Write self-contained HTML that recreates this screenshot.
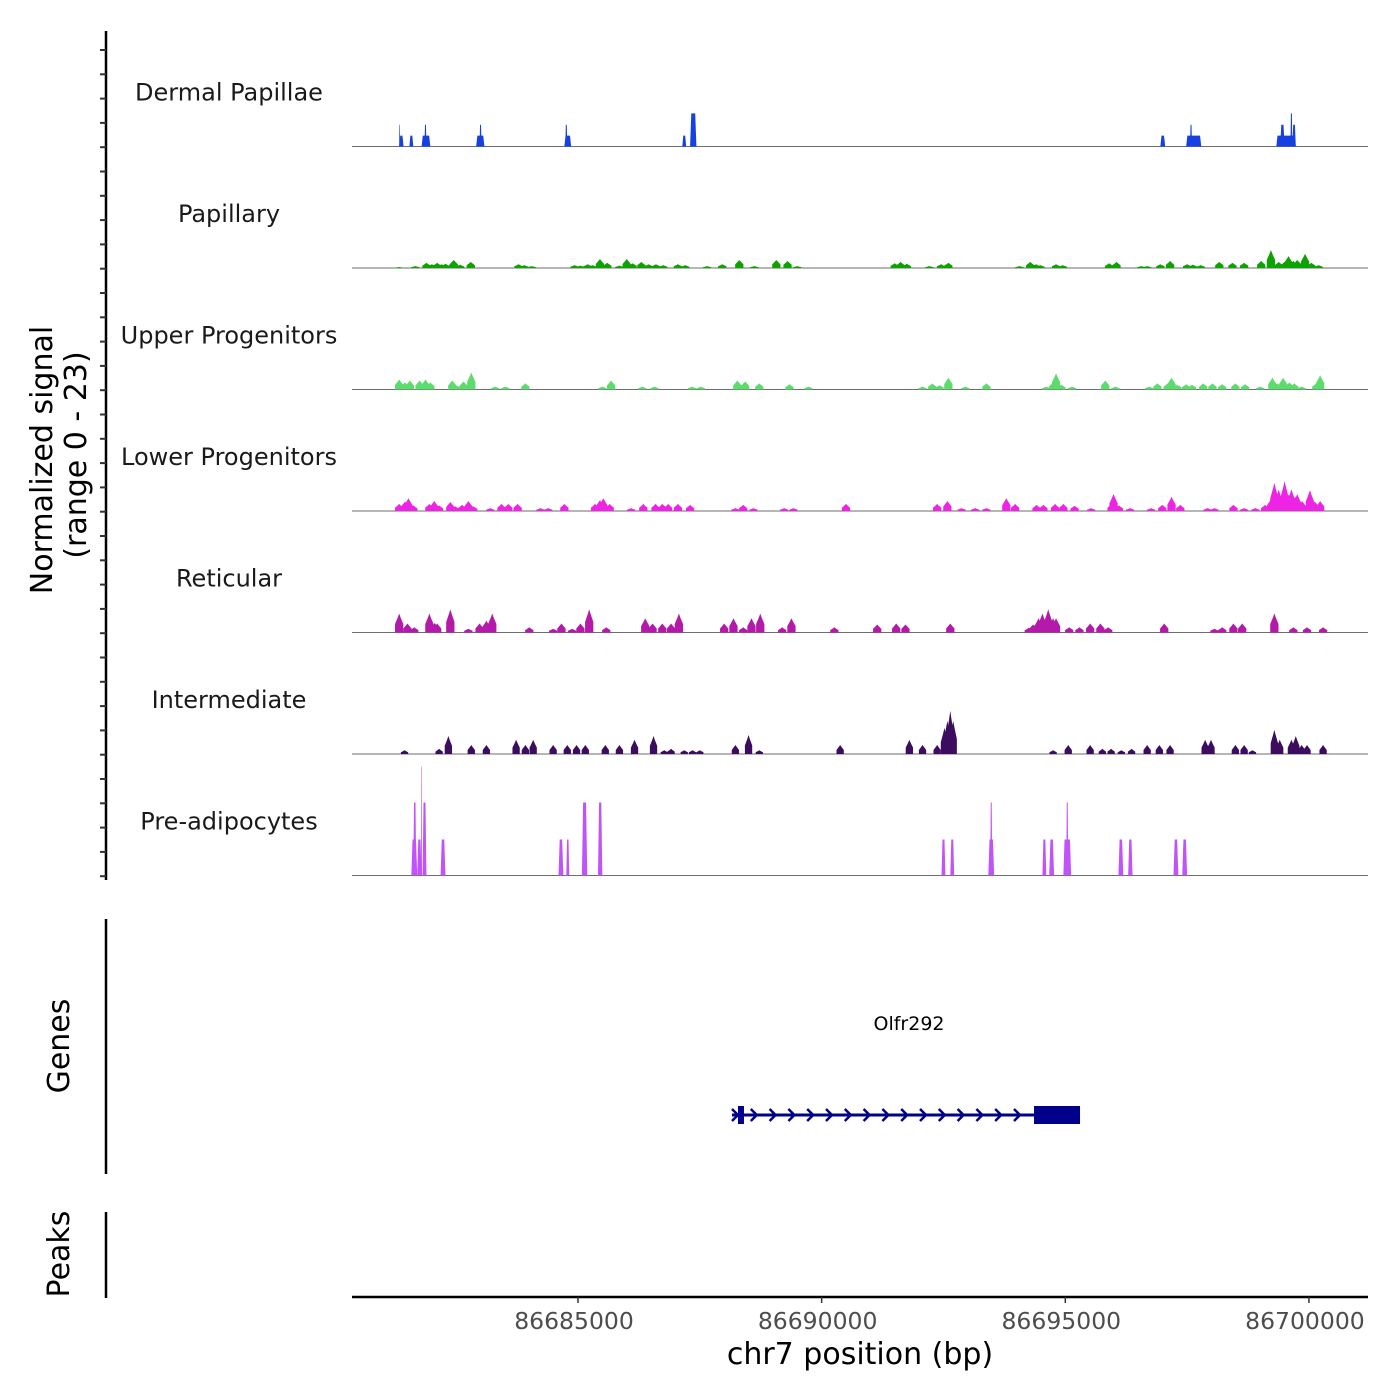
<!DOCTYPE html>
<html><head><meta charset="utf-8"><style>
html,body{margin:0;padding:0;background:#fff}
svg{display:block;font-family:"DejaVu Sans","Liberation Sans",sans-serif}
</style></head><body>
<svg id="chart" width="1400" height="1400" viewBox="0 0 1400 1400">
<g id="tracks"></g>
<g id="axes"></g>
<g id="genes"></g>
</svg>
<script>
// ---- data (positions in kb offset from REGION_OFFSET) ----
const REGION_OFFSET = 86680000;
const xTickValues = [86685000, 86690000, 86695000, 86700000];
const xTickLabels = ["86685000", "86690000", "86695000", "86700000"];
const trackNames = ["Dermal Papillae","Papillary","Upper Progenitors","Lower Progenitors","Reticular","Intermediate","Pre-adipocytes"];
const signalMax = 23;

const dermalStart = [1.33,1.33,1.54,1.79,1.85,2.91,2.98,4.72,4.74,7.14,7.30,16.95,17.48,17.56,19.33,19.41,19.62,19.66];
const dermalEnd   = [1.42,1.35,1.62,1.97,1.89,3.08,3.02,4.86,4.78,7.22,7.43,17.05,17.79,17.60,19.73,19.50,19.66,19.73];
const dermalVal   = [2.3,4.6,2.3,2.3,4.6,2.3,4.6,2.3,4.6,2.3,7.0,2.3,2.3,4.6,2.3,4.6,7.0,4.6];

const preadipoStart = [1.58,1.62,1.70,1.78,1.81,2.18,4.60,4.76,5.08,5.41,12.46,12.64,13.42,13.46,14.53,14.67,14.96,15.02,16.09,16.29,17.22,17.40];
const preadipoEnd   = [1.70,1.68,1.79,1.80,1.89,2.28,4.70,4.82,5.19,5.50,12.54,12.72,13.54,13.50,14.61,14.77,15.12,15.06,16.19,16.38,17.32,17.50];
const preadipoVal   = [7.6,15.4,7.6,23,15.4,7.6,7.6,7.6,15.4,15.4,7.6,7.6,7.6,15.4,7.6,7.6,7.6,15.4,7.6,7.6,7.6,7.6];

const papillaryPos = [1.33,1.66,1.89,2.0,2.11,2.2,2.28,2.38,2.45,2.58,2.8,3.78,3.9,4.05,4.93,5.05,5.2,5.3,5.45,5.6,5.85,6.0,6.12,6.3,6.45,6.6,6.75,7.05,7.2,7.65,7.96,8.31,8.62,9.07,9.3,9.5,11.5,11.62,11.75,12.21,12.45,12.6,14.06,14.28,14.4,14.49,14.81,14.95,15.9,16.05,16.56,16.68,16.95,17.15,17.5,17.62,17.78,18.16,18.43,18.67,19.02,19.22,19.38,19.5,19.58,19.68,19.76,19.92,20.05,20.2];
const papillaryVal = [.2,.4,1.1,.8,1.1,.8,.9,.7,1.7,.7,1.3,.8,.6,.4,.6,.5,.8,.6,1.9,1.1,.5,1.9,1.0,1.3,.8,.8,.6,.8,.6,.4,.8,1.7,.4,1.7,1.5,.4,1.0,1.3,.9,.4,.8,1.1,.4,1.3,.8,.6,.8,.6,1.0,1.3,.4,.4,.8,1.5,.8,.7,.6,1.3,1.1,1.1,1.5,3.8,1.3,1.3,2.5,1.5,1.7,3.0,1.1,.6];

const upperPos = [1.33,1.45,1.55,1.75,1.87,1.97,2.42,2.52,2.65,2.75,2.81,3.30,3.51,3.92,5.50,5.68,6.32,6.57,7.34,7.52,8.27,8.43,8.72,9.34,9.73,12.07,12.27,12.42,12.6,12.95,13.38,14.61,14.75,14.81,14.92,15.14,15.82,16.03,16.72,16.89,17.1,17.18,17.3,17.48,17.6,17.83,18.02,18.22,18.49,18.69,19.0,19.25,19.35,19.47,19.6,19.7,19.85,20.15,20.23];
const upperVal = [2.1,1.5,1.9,1.9,2.1,1.5,1.9,.8,1.7,1.2,3.6,.6,.6,1.3,.6,1.9,.6,.6,.6,.6,1.9,1.7,1.3,1.1,.6,.6,1.3,.9,2.5,.6,1.3,.6,1.5,3.4,1.0,.6,1.9,.6,.6,1.3,1.3,2.5,1.0,1.1,1.0,1.3,1.3,1.1,1.3,1.1,.6,2.5,1.3,2.5,1.5,1.3,.6,1.3,3.0];

const lowerPos = [1.33,1.45,1.52,1.62,1.95,2.05,2.15,2.38,2.48,2.62,2.75,2.85,3.20,3.43,3.57,3.76,4.23,4.39,4.72,5.35,5.45,5.52,5.65,6.09,6.34,6.59,6.73,6.85,7.05,7.30,8.23,8.39,8.60,9.23,9.42,10.50,12.37,12.58,12.87,13.15,13.38,13.79,13.97,14.41,14.55,14.79,14.96,15.19,15.53,15.95,15.99,16.1,16.33,16.76,16.99,17.18,17.36,17.92,18.06,18.45,18.67,18.90,19.10,19.22,19.29,19.38,19.50,19.58,19.64,19.72,19.76,19.86,20.02,20.12,20.23];
const lowerVal = [1.5,2.0,2.7,1.2,1.5,2.1,1.2,1.9,1.0,1.3,2.1,1.0,.6,1.5,1.5,1.5,.6,.6,1.5,1.5,2.3,2.7,1.5,.6,1.5,1.5,1.5,1.5,1.5,1.3,.6,1.3,.6,.6,.6,1.5,1.5,2.1,.6,.6,.6,2.7,1.5,1.3,1.3,1.5,1.5,1.1,.6,1.5,3.6,1.2,.6,.6,1.3,3.0,1.3,.6,.6,1.3,.6,.6,1.3,2.5,5.9,4.5,6.3,3.5,4.6,3.0,3.6,2.1,4.4,2.0,2.1];

const reticularPos = [1.33,1.50,1.64,1.95,2.06,2.11,2.38,2.75,2.98,3.12,3.20,3.24,4.00,4.49,4.66,4.88,5.05,5.23,5.58,6.38,6.53,6.73,6.91,7.07,8.00,8.19,8.39,8.56,8.74,9.19,9.38,10.26,11.14,11.53,11.72,12.64,14.25,14.34,14.45,14.53,14.65,14.75,14.81,15.08,15.29,15.51,15.72,15.88,17.03,18.06,18.22,18.45,18.63,19.29,19.68,19.96,20.29];
const reticularVal = [4.0,1.9,1.1,4.0,2.0,1.9,4.9,.8,1.9,2.5,2.0,4.0,1.1,.8,1.9,.8,1.9,4.9,1.1,3.0,1.9,1.9,1.9,4.0,1.9,3.0,1.1,3.0,4.0,1.1,3.0,1.1,1.7,1.9,1.7,1.9,1.0,1.7,3.0,4.0,4.9,3.0,3.0,1.1,1.1,1.9,1.9,1.1,1.9,.8,1.1,1.9,1.9,4.0,1.1,1.1,1.1];

const intermediatePos = [1.44,2.15,2.34,2.81,3.12,3.73,3.92,4.08,4.49,4.78,4.97,5.15,5.56,5.85,6.16,6.55,6.77,6.91,7.18,7.35,7.50,8.23,8.50,8.72,10.38,11.80,12.07,12.37,12.52,12.58,12.64,12.70,14.75,15.06,15.51,15.76,15.94,16.15,16.36,16.68,16.93,17.15,17.87,17.99,18.49,18.67,18.84,19.29,19.40,19.64,19.73,19.85,19.96,20.29];
const intermediateVal = [.8,1.1,3.8,1.9,1.9,3.0,1.9,3.0,1.9,1.9,1.9,1.9,1.9,1.9,3.0,3.8,.8,1.1,.8,.8,.8,1.9,4.0,.8,1.9,3.0,1.9,1.9,5.5,7.0,9.1,7.0,.8,1.9,1.9,1.1,1.1,.8,1.1,1.9,1.9,1.9,3.0,3.0,1.9,1.9,.8,5.1,3.0,3.0,3.8,1.9,1.9,1.9];

const geneName = "Olfr292";
const geneStart = 86688160, geneEnd = 86695302;
const exonStarts = [86688283, 86694358];
const exonEnds   = [86688406, 86695302];

// ---- scales ----
const PLOT_L = 352, PLOT_R = 1368;
const TICK0_X = 578, PX_PER_BP = 0.04873;
function xScale(bp){ return TICK0_X + (bp - 86685000) * PX_PER_BP; }
function xKb(kb){ return xScale(REGION_OFFSET + kb*1000); }
const TRACK_TOP = 25, TRACK_H = 121.5, PX_PER_UNIT = 109/signalMax;
function baseY(i){ return TRACK_TOP + TRACK_H*(i+1); }
function yScale(i, v){ return baseY(i) - v*PX_PER_UNIT; }

const NS = "http://www.w3.org/2000/svg";
function mk(tag, attrs, parent){ const e=document.createElementNS(NS,tag); for(const k in attrs) e.setAttribute(k, attrs[k]); parent.appendChild(e); return e; }

const colors = ["#1740e0","#0ca300","#5cdc6c","#ee24e4","#b31aa9","#3c0c5e","#c054f8"];
const tracks = document.getElementById('tracks');
const axes = document.getElementById('axes');
const genes = document.getElementById('genes');

trackNames.forEach((nm,i)=>{
  const t = mk('text',{x:229,y:baseY(i)-46,'text-anchor':'middle','font-size':24,fill:'#1a1a1a'},tracks);
  t.textContent = nm;
  
  
  const l = mk('line',{x1:PLOT_L,x2:PLOT_R,y1:baseY(i),y2:baseY(i),stroke:'#6e6e6e','stroke-width':1},tracks);
  
  
});

function drawSegments(i, starts, ends, vals){
  const g = mk('g',{fill:colors[i]},tracks);
  
  
  for(let k=0;k<starts.length;k++){
    const x0=xKb(starts[k]), x1=xKb(ends[k]), y=yScale(i,vals[k]), b=baseY(i);
    const s = Math.min(1.2,(x1-x0)/4);
    const p = mk('polygon',{points:`${x0},${b} ${x0+s},${y} ${x1-s},${y} ${x1},${b}`},g);
    
    
  }
}
function drawPeaks(i, pos, vals, wkb){
  const g = mk('g',{fill:colors[i]},tracks);
  
  
  for(let k=0;k<pos.length;k++){
    const c=xKb(pos[k]), hw=wkb*48.73/2, b=baseY(i), v=vals[k]*PX_PER_UNIT;
    const pts=[[c-hw,b],[c-hw,b-0.45*v],[c-hw/3,b-0.8*v],[c,b-v],[c+hw/3,b-0.8*v],[c+hw,b-0.45*v],[c+hw,b]];
    const p = mk('polygon',{points:pts.map(q=>q.join(',')).join(' ')},g);
    
    
  }
}
drawSegments(0, dermalStart, dermalEnd, dermalVal);
drawPeaks(1, papillaryPos, papillaryVal, 0.17);
drawPeaks(2, upperPos, upperVal, 0.17);
drawPeaks(3, lowerPos, lowerVal, 0.17);
drawPeaks(4, reticularPos, reticularVal, 0.17);
drawPeaks(5, intermediatePos, intermediateVal, 0.15);
drawSegments(6, preadipoStart, preadipoEnd, preadipoVal);

mk('line',{x1:106,x2:106,y1:31,y2:880,stroke:'#000','stroke-width':2.5},axes);
for(let y=50;y<=880;y+=24.3){ mk('line',{x1:100,x2:106,y1:y,y2:y,stroke:'#333','stroke-width':2},axes); }
mk('line',{x1:106,x2:106,y1:919,y2:1174,stroke:'#000','stroke-width':2.5},axes);
mk('line',{x1:106,x2:106,y1:1212,y2:1298,stroke:'#000','stroke-width':2.5},axes);
let t;
t=mk('text',{x:0,y:0,'text-anchor':'middle','font-size':30,fill:'#000',transform:'translate(52,460) rotate(-90)'},axes); t.textContent='Normalized signal';
 
t=mk('text',{x:0,y:0,'text-anchor':'middle','font-size':30,fill:'#000',transform:'translate(86,455) rotate(-90)'},axes); t.textContent='(range 0 - 23)';
 
t=mk('text',{x:0,y:0,'text-anchor':'middle','font-size':30,fill:'#000',transform:'translate(69,1046) rotate(-90)'},axes); t.textContent='Genes';
 
t=mk('text',{x:0,y:0,'text-anchor':'middle','font-size':30,fill:'#000',transform:'translate(69,1254) rotate(-90)'},axes); t.textContent='Peaks';
 

mk('line',{x1:PLOT_L,x2:PLOT_R,y1:1297,y2:1297,stroke:'#000','stroke-width':2.5},axes);
xTickValues.forEach((v,k)=>{
  const x=xScale(v);
  mk('line',{x1:x,x2:x,y1:1297,y2:1303,stroke:'#333','stroke-width':1.5},axes);
  const tl=mk('text',{x:x-4,y:1329,'text-anchor':'middle','font-size':23.5,fill:'#4d4d4d'},axes);
  tl.textContent=xTickLabels[k];
  
  
});
t=mk('text',{x:860,y:1364,'text-anchor':'middle','font-size':30,fill:'#000'},axes); t.textContent='chr7 position (bp)';
 

const gy=1115, gx0=xScale(geneStart), gx1=xScale(geneEnd);
t=mk('text',{x:(gx0+gx1)/2+3,y:1030,'text-anchor':'middle','font-size':19,fill:'#000'},genes); t.textContent=geneName;
 
const gl=mk('line',{x1:gx0,x2:gx1,y1:gy,y2:gy,stroke:'#00008b','stroke-width':3},genes);
 
for(let x=gx0+3;x<xScale(exonStarts[1]);x+=18.8){
  const c=mk('polyline',{points:`${x-3},${gy-6} ${x+3},${gy} ${x-3},${gy+6}`,fill:'none',stroke:'#00008b','stroke-width':2.5},genes);
   
}
exonStarts.forEach((s,k)=>{
  const r=mk('rect',{x:xScale(s),y:gy-9,width:xScale(exonEnds[k])-xScale(s),height:18,fill:'#00008b'},genes);
   
});
</script>
</body></html>
